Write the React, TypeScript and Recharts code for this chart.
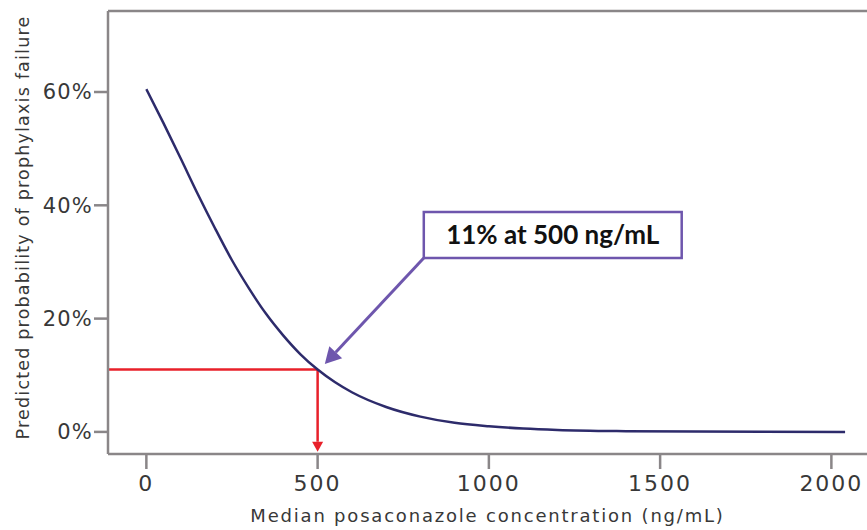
import {
  Line,
  LineChart,
  ReferenceArea,
  ReferenceLine,
  XAxis,
  YAxis,
} from 'recharts'

// concentration (ng/mL) and predicted failure probability (%)
const CONCENTRATIONS = [0, 50, 100, 150, 200, 250, 300, 350, 400, 450, 500, 550, 600, 700, 800, 900, 1000, 1100, 1200, 1400, 1600, 1800, 2040]
const PROBABILITY = [60.5, 54.5, 48.3, 42, 36, 30.3, 25.3, 20.8, 17, 13.7, 11, 8.8, 7, 4.4, 2.7, 1.6, 1.0, 0.6, 0.35, 0.13, 0.05, 0.02, 0]

const X_TICKS = [0, 500, 1000, 1500, 2000]
const Y_TICKS = [0, 20, 40, 60]

const X_DOMAIN: [number, number] = [-112, 2104]
const Y_DOMAIN: [number, number] = [-3.9, 74.3]

// highlighted point and annotation
const TARGET_CONC = 500
const TARGET_PROB = 11
const ANNOTATION = '11% at 500 ng/mL'
const BOX = { x1: 810, x2: 1563, y1: 30.7, y2: 38.8 }
const POINTER = { from: { x: 810, y: 30.7 }, to: { x: 521, y: 12 } }

const COLORS = {
  axis: '#8a8688',
  text: '#383838',
  curve: '#2d2b6b',
  red: '#e8202a',
  purple: '#6e56ad',
}

const data = CONCENTRATIONS.map((conc, i) => ({ conc, p: PROBABILITY[i] }))

function arrowShape(color: string, width: number, head: number) {
  return (props: any) => {
    const { x1, y1, x2, y2 } = props
    if (x1 == null || x2 == null) return <g />
    const ang = Math.atan2(y2 - y1, x2 - x1)
    const bx = x2 - head * Math.cos(ang)
    const by = y2 - head * Math.sin(ang)
    const px = (head * 0.55) * Math.sin(ang)
    const py = -(head * 0.55) * Math.cos(ang)
    return (
      <g>
        <line x1={x1} y1={y1} x2={bx} y2={by} stroke={color} strokeWidth={width} />
        <polygon points={`${x2},${y2} ${bx + px},${by + py} ${bx - px},${by - py}`} fill={color} />
      </g>
    )
  }
}

export default function App() {
  return (
    <div style={{ position: 'absolute', left: 0, top: 0, background: '#fff' }}>
      <LineChart width={867} height={530} data={data} margin={{ top: 11, right: 0, left: 0, bottom: 0 }}>
        <XAxis
          dataKey="conc"
          type="number"
          domain={X_DOMAIN}
          ticks={X_TICKS}
          allowDataOverflow
          height={76}
          tickSize={15}
          tickMargin={6}
          stroke={COLORS.axis}
          strokeWidth={2.5}
          tick={{ fontSize: 22, fill: COLORS.text, fontFamily: 'DejaVu Sans', letterSpacing: 2 }}
          label={{
            content: (p: any) => {
              const vb = p.viewBox
              return (
                <text
                  x={vb.x + vb.width / 2}
                  y={vb.y + 68}
                  textAnchor="middle"
                  fontSize={18}
                  letterSpacing={1.8}
                  fill={COLORS.text}
                  fontFamily="DejaVu Sans"
                >
                  Median posaconazole concentration (ng/mL)
                </text>
              )
            },
          }}
        />
        <YAxis
          type="number"
          domain={Y_DOMAIN}
          ticks={Y_TICKS}
          allowDataOverflow
          width={108}
          tickSize={14}
          tickMargin={1}
          stroke={COLORS.axis}
          strokeWidth={2.5}
          tickFormatter={(v) => `${v}%`}
          tick={{ fontSize: 21, fill: COLORS.text, fontFamily: 'DejaVu Sans', letterSpacing: 1.2 }}
          label={{
            content: (p: any) => {
              const vb = p.viewBox
              const cy = vb.y + vb.height / 2 - 5
              return (
                <text
                  x={23}
                  y={cy}
                  transform={`rotate(-90 23 ${cy})`}
                  textAnchor="middle"
                  dominantBaseline="central"
                  fontSize={17.5}
                  letterSpacing={1.2}
                  fill={COLORS.text}
                  fontFamily="DejaVu Sans"
                >
                  Predicted probability of prophylaxis failure
                </text>
              )
            },
          }}
        />
        <ReferenceLine y={Y_DOMAIN[1]} stroke={COLORS.axis} strokeWidth={2.5} />
        <ReferenceLine
          segment={[
            { x: X_DOMAIN[0], y: TARGET_PROB },
            { x: TARGET_CONC, y: TARGET_PROB },
          ]}
          stroke={COLORS.red}
          strokeWidth={2.5}
        />
        <ReferenceLine
          segment={[
            { x: TARGET_CONC, y: TARGET_PROB },
            { x: TARGET_CONC, y: -3.5 },
          ]}
          stroke={COLORS.red}
          strokeWidth={2.5}
          shape={arrowShape(COLORS.red, 2.5, 10)}
        />
        <Line
          type="monotone"
          dataKey="p"
          stroke={COLORS.curve}
          strokeWidth={2.5}
          dot={false}
          isAnimationActive={false}
        />
        <ReferenceLine
          segment={[POINTER.from, POINTER.to]}
          stroke={COLORS.purple}
          strokeWidth={3}
          shape={arrowShape(COLORS.purple, 3, 16)}
        />
        <ReferenceArea
          x1={BOX.x1}
          x2={BOX.x2}
          y1={BOX.y1}
          y2={BOX.y2}
          fill="#fff"
          fillOpacity={1}
          stroke={COLORS.purple}
          strokeWidth={2.5}
          label={{
            value: ANNOTATION,
            position: 'center',
            fontSize: 26,
            fontWeight: 'bold',
            fontFamily: 'Lato',
            fill: '#111',
          }}
        />
      </LineChart>
    </div>
  )
}
